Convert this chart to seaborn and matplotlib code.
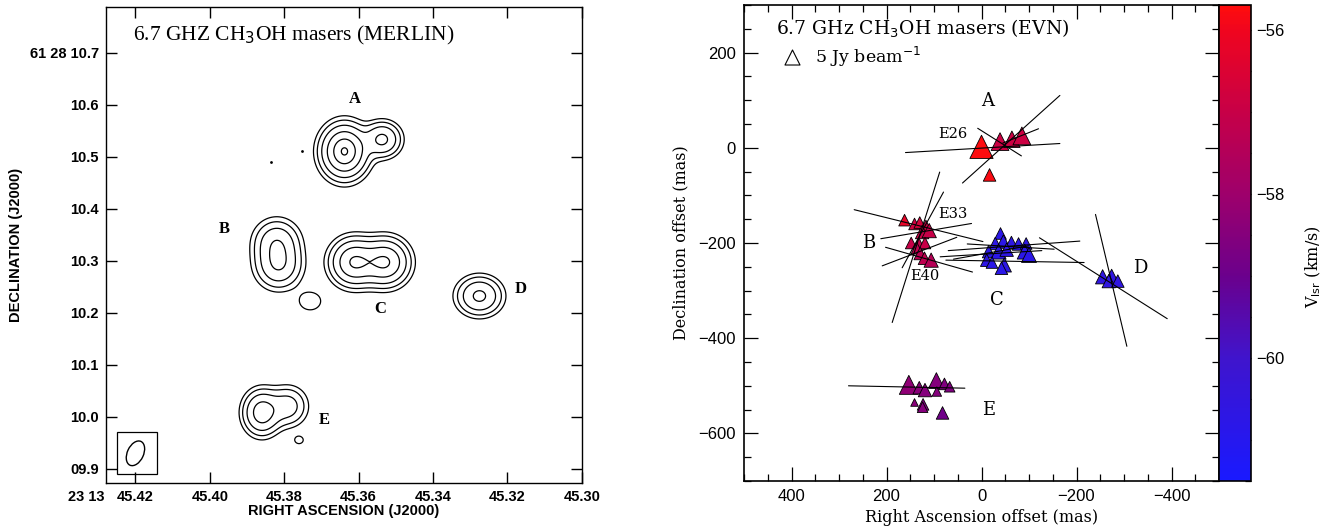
import numpy as np
import pandas as pd
import matplotlib
matplotlib.use("Agg")
import matplotlib.pyplot as plt
import seaborn as sns
from matplotlib.colors import LinearSegmentedColormap, Normalize
from matplotlib.cm import ScalarMappable
from matplotlib.patches import Ellipse, Rectangle
from matplotlib.ticker import MultipleLocator

sns.set_style("ticks")
plt.rcParams["font.family"] = ["DejaVu Sans"]
plt.rcParams.update({"text.color": "black", "axes.labelcolor": "black",
                     "xtick.color": "black", "ytick.color": "black",
                     "axes.edgecolor": "black"})

# ---------------- Left panel (MERLIN) data: gaussian components ----------------
comp_ra = [45.3638, 45.3536, 45.3820, 45.3815, 45.3730, 45.3612, 45.3528, 45.3275, 45.3860, 45.3790, 45.3760]
comp_dec = [10.510, 10.533, 10.335, 10.290, 10.222, 10.297, 10.297, 10.232, 10.008, 10.020, 9.955]
comp_amp = [1.00, 0.45, 0.35, 0.38, 0.085, 0.72, 0.72, 0.45, 0.55, 0.28, 0.07]
comp_sra = [0.0034, 0.0028, 0.0035, 0.0035, 0.0027, 0.0035, 0.0035, 0.0034, 0.0028, 0.0030, 0.0013]
comp_sdec = [0.028, 0.019, 0.025, 0.025, 0.016, 0.025, 0.025, 0.021, 0.024, 0.022, 0.008]
contour_levels = [0.05, 0.1, 0.2, 0.4, 0.7, 0.97]
dots_ra = [45.3752, 45.3836]
dots_dec = [10.51, 10.49]
left_lab = ["A", "B", "C", "D", "E"]
left_lab_ra = [45.361, 45.3961, 45.3543, 45.3165, 45.3692]
left_lab_dec = [10.611, 10.36, 10.208, 10.246, 9.993]
xt_left = [45.42, 45.40, 45.38, 45.36, 45.34, 45.32, 45.30]
xt_left_lab = ["45.42", "45.40", "45.38", "45.36", "45.34", "45.32", "45.30"]
yt_left = [9.9, 10.0, 10.1, 10.2, 10.3, 10.4, 10.5, 10.6, 10.7]
yt_left_lab = ["09.9", "10.0", "10.1", "10.2", "10.3", "10.4", "10.5", "10.6", "61 28 10.7"]

# ---------------- Right panel (EVN) data ----------------
ra_off = [0, -39, -64, -85, -17,
          162, 141, 130, 117, 125, 110, 148, 132, 119, 136, 129, 120, 106,
          -40, -29, -46, -63, -78, -94, -15, -36, -53, -91, -100, -11, -22, -48, -42,
          -255, -274, -268, -287,
          153, 131, 119, 95, 78, 67, 94, 141, 123, 124, 82]
dec_off = [2, 13, 18, 25, -57,
           -152, -160, -157, -167, -177, -174, -200, -201, -200, -211, -222, -232, -236,
           -180, -201, -197, -199, -202, -201, -218, -218, -214, -218, -225, -236, -241, -246, -253,
           -271, -270, -280, -280,
           -498, -504, -509, -489, -496, -502, -512, -535, -539, -545, -557]
flux = [12, 7, 6, 7, 3.5,
        3, 3, 3, 4.5, 4, 4.5, 3, 3, 3, 3, 3.5, 3.5, 4.5,
        3, 3.5, 4, 3.5, 3.5, 3, 3.5, 5, 4, 5, 5, 3.5, 3, 4.5, 3.5,
        4.5, 4.5, 4, 3.5,
        8, 3.5, 4, 5.5, 3, 2.5, 2, 1.3, 3, 2.5, 3.5]
vlsr = [-55.75, -56.9, -56.9, -56.9, -55.8,
        -56.2, -56.8, -56.7, -56.9, -57.0, -57.0, -57.0, -57.1, -57.0, -57.2, -57.3, -57.2, -57.4,
        -60.8, -60.7, -60.8, -60.7, -60.8, -60.7, -60.8, -60.8, -60.7, -60.8, -60.8, -60.7, -60.8, -60.7, -60.8,
        -60.6, -60.6, -60.6, -60.6,
        -58.3, -58.4, -58.5, -58.5, -58.6, -58.6, -58.5, -58.4, -58.6, -58.5, -58.9]

vec_x0 = [160, 40, 8, -45, 268, 212, 202, 209, 188, 167, 70, 87, 75, 30, 59, -240, -122, 280]
vec_y0 = [-10, -74, 41, 10, -130, -191, -209, -248, -367, -252, -216, -229, -236, -202, -234, -140, -189, -500]
vec_x1 = [-165, -165, -84, -120, -3, 21, 19, 52, 88, 80, -207, -127, -216, -153, -99, -306, -391, 35]
vec_y1 = [9, 110, -17, 40, -197, -159, -261, -188, -51, -93, -196, -216, -241, -213, -206, -417, -359, -505]

right_lab = ["A", "B", "C", "D", "E"]
right_lab_x = [-12, 237, -33, -334, -14]
right_lab_y = [98, -200, -320, -252, -551]
spot_lab = ["E26", "E33", "E40"]
spot_lab_x = [61, 61, 120]
spot_lab_y = [28, -140, -270]

vmin, vmax = -61.5, -55.7
cmap = LinearSegmentedColormap.from_list(
    "vlsr",
    [(0.0, (0.10, 0.10, 1.00)),
     ((-60 - vmin) / (vmax - vmin), (0.25, 0.08, 0.80)),
     ((-59 - vmin) / (vmax - vmin), (0.42, 0.00, 0.55)),
     ((-58 - vmin) / (vmax - vmin), (0.62, 0.00, 0.42)),
     ((-57 - vmin) / (vmax - vmin), (0.78, 0.00, 0.28)),
     ((-56 - vmin) / (vmax - vmin), (0.94, 0.02, 0.12)),
     (1.0, (1.00, 0.05, 0.05))])

# ---------------- Figure ----------------
W, H = 1342, 532
fig = plt.figure(figsize=(W / 100, H / 100), dpi=100)
ax1 = fig.add_axes([105.7 / W, 1 - 483.3 / H, 476 / W, 476 / H])
ax2 = fig.add_axes([744 / W, 1 - 481 / H, 475 / W, 476 / H])
cax = fig.add_axes([1219 / W, 1 - 481 / H, 32 / W, 476 / H])

# Left panel contours
ra_grid = np.linspace(45.30, 45.428, 600)
dec_grid = np.linspace(9.872, 10.787, 600)
RA, DEC = np.meshgrid(ra_grid, dec_grid)
img = np.zeros_like(RA)
for a, r0, d0, sr, sd in zip(comp_amp, comp_ra, comp_dec, comp_sra, comp_sdec):
    img += a * np.exp(-0.5 * (((RA - r0) / sr) ** 2 + ((DEC - d0) / sd) ** 2))
ax1.contour(RA, DEC, img, levels=contour_levels, colors="black", linewidths=0.9)
sns.scatterplot(x=dots_ra, y=dots_dec, ax=ax1, color="black", s=4, marker="o", linewidth=0, legend=False)
ax1.set_xlim(45.428, 45.30)
ax1.set_ylim(9.872, 10.787)
ax1.set_xticks(xt_left)
ax1.set_xticklabels(xt_left_lab)
ax1.set_yticks(yt_left)
ax1.set_yticklabels(yt_left_lab)
ax1.tick_params(direction="in", length=8, width=1, top=True, right=True,
                labelsize=10.5, pad=5)
for lab in ax1.get_xticklabels() + ax1.get_yticklabels():
    lab.set_fontweight("bold")
    lab.set_family("Liberation Sans")
for sp in ax1.spines.values():
    sp.set_linewidth(1.0)
ax1.annotate("23 13", xy=(45.42, 0), xycoords=("data", "axes fraction"),
             xytext=(-22, -5), textcoords="offset points", ha="right", va="top",
             fontsize=10.5, fontweight="bold", family="Liberation Sans")
ax1.set_xlabel("RIGHT ASCENSION (J2000)", fontsize=10.5, fontweight="bold",
               family="Liberation Sans", labelpad=0)
ax1.set_ylabel("DECLINATION (J2000)", fontsize=10.5, fontweight="bold",
               family="Liberation Sans", labelpad=5)
ax1.text(0.058, 0.94, "6.7 GHZ CH$_3$OH masers (MERLIN)", transform=ax1.transAxes,
         fontsize=15.5, family="Liberation Serif", va="center", ha="left")
for t, x, y in zip(left_lab, left_lab_ra, left_lab_dec):
    ax1.text(x, y, t, fontsize=12, fontweight="bold", family="Liberation Serif",
             ha="center", va="center")
ax1.add_patch(Rectangle((0.023, 0.02), 0.085, 0.087, transform=ax1.transAxes,
                        fill=False, lw=0.9, ec="black"))
ax1.add_patch(Ellipse((0.0625, 0.063), 0.034, 0.055, angle=-25, transform=ax1.transAxes,
                      fill=False, lw=1.0, ec="black"))

# Right panel
df = pd.DataFrame({"ra": ra_off, "dec": dec_off, "flux": flux, "vlsr": vlsr})
sns.scatterplot(data=df, x="ra", y="dec", hue="vlsr", size="flux", palette=cmap,
                hue_norm=(vmin, vmax), sizes=(0, 280), size_norm=(0, 12),
                marker="^", edgecolor="black", linewidth=0.6, legend=False, ax=ax2, zorder=2)
for x0, y0, x1, y1 in zip(vec_x0, vec_y0, vec_x1, vec_y1):
    ax2.plot([x0, x1], [y0, y1], color="black", lw=0.8, zorder=3)
ax2.set_xlim(500, -500)
ax2.set_ylim(-700, 300)
ax2.xaxis.set_major_locator(MultipleLocator(200))
ax2.xaxis.set_minor_locator(MultipleLocator(50))
ax2.yaxis.set_major_locator(MultipleLocator(200))
ax2.yaxis.set_minor_locator(MultipleLocator(50))
ax2.tick_params(which="major", direction="in", length=10, width=0.9, top=True, right=True,
                labelsize=12, pad=6)
ax2.tick_params(which="minor", direction="in", length=5, width=0.9, top=True, right=True)
for lab in ax2.get_xticklabels() + ax2.get_yticklabels():
    lab.set_family("Liberation Sans")
for sp in ax2.spines.values():
    sp.set_linewidth(1.2)
ax2.set_xlabel("Right Ascension offset (mas)", fontsize=11.5, family="DejaVu Serif", labelpad=3)
ax2.set_ylabel("Declination offset (mas)", fontsize=11.5, family="DejaVu Serif", labelpad=6)
ax2.text(433, 250, "6.7 GHz CH$_3$OH masers (EVN)", fontsize=13.5, family="DejaVu Serif",
         ha="left", va="center")
ax2.scatter([0.102], [0.891], transform=ax2.transAxes, marker="^", s=117,
            facecolor="white", edgecolor="black", linewidth=0.8)
ax2.text(351, 191, "5 Jy beam$^{-1}$", fontsize=12.5, family="DejaVu Serif",
         ha="left", va="center")
for t, x, y in zip(right_lab, right_lab_x, right_lab_y):
    ax2.text(x, y, t, fontsize=13, family="DejaVu Serif", ha="center", va="center")
for t, x, y in zip(spot_lab, spot_lab_x, spot_lab_y):
    ax2.text(x, y, t, fontsize=10.5, family="DejaVu Serif", ha="center", va="center")

# Colorbar
sm = ScalarMappable(norm=Normalize(vmin, vmax), cmap=cmap)
cb = fig.colorbar(sm, cax=cax)
cb.set_ticks([-56, -58, -60])
cb.set_ticklabels(["\u221256", "\u221258", "\u221260"])
cb.ax.yaxis.set_minor_locator(MultipleLocator(0.5))
cb.ax.tick_params(which="major", direction="in", length=10, width=0.9, labelsize=12, pad=4)
cb.ax.tick_params(which="minor", direction="in", length=4, width=0.9)
for lab in cb.ax.get_yticklabels():
    lab.set_family("Liberation Sans")
cb.outline.set_linewidth(1.2)
fig.text(1313 / W, 1 - 267 / H, "V$_{\\rm lsr}$ (km/s)", rotation=90, fontsize=11.5,
         family="DejaVu Serif", ha="center", va="center")

fig.savefig("out.png", dpi=100)
